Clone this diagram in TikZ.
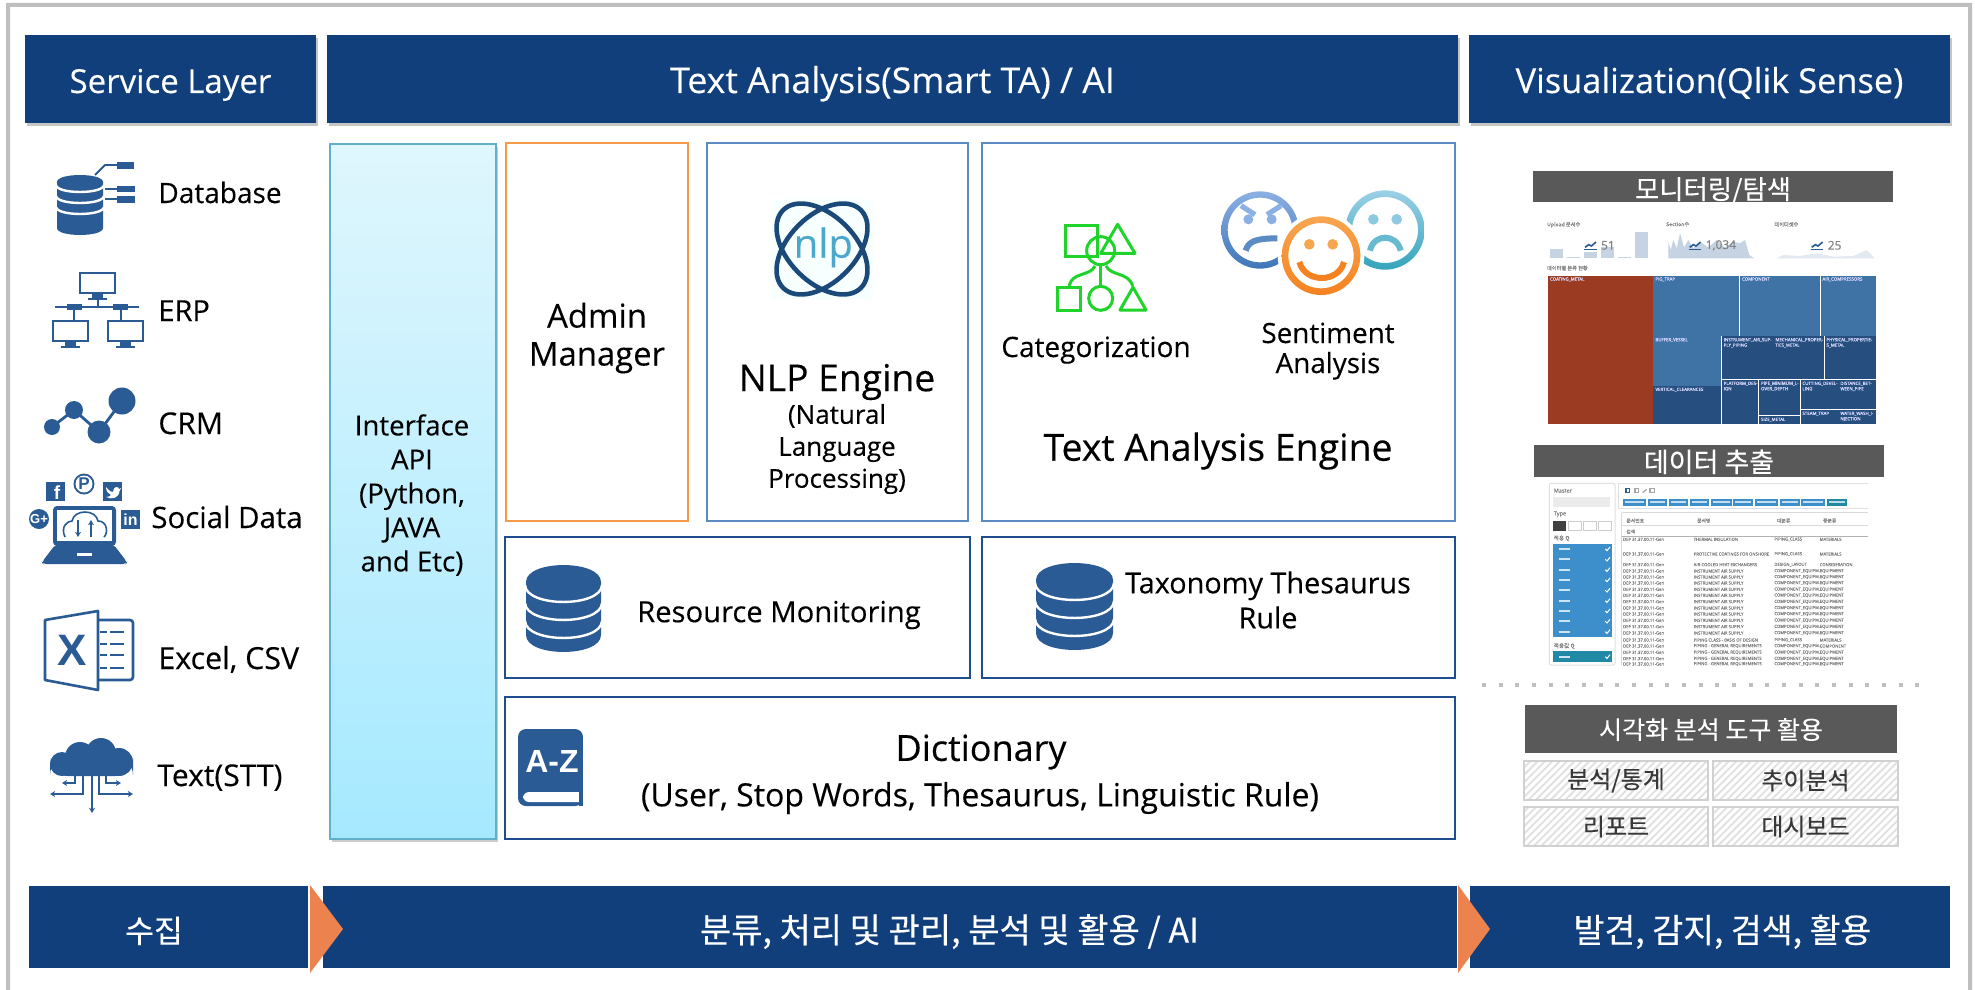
\documentclass[tikz,border=0pt]{standalone}
\usepackage{fontspec}
\setmainfont{Open Sans}[FakeBold=0.25]
\newfontfamily\kr{Noto Sans CJK KR}[FakeBold=0.3]
\newfontfamily\lib{Liberation Sans}
\usetikzlibrary{shadows,patterns.meta,arrows.meta}
\definecolor{hblue}{HTML}{113F7C}
\definecolor{ic}{HTML}{2A5B94}
\definecolor{frame}{HTML}{BFBFBF}
\definecolor{orgb}{HTML}{F39B4A}
\definecolor{midb}{HTML}{5B8BC4}
\definecolor{darkb}{HTML}{1F4E8F}
\definecolor{arrowo}{HTML}{EC834F}
\definecolor{bar}{HTML}{595959}
\definecolor{gre}{HTML}{1FD32A}
\definecolor{tm1}{HTML}{3F72A5}
\definecolor{tm2}{HTML}{264F7F}
\definecolor{tmr}{HTML}{9B3B22}
\definecolor{spark}{HTML}{C5D3E3}
\definecolor{lst}{HTML}{3D8FCC}
\definecolor{tea}{HTML}{2189A6}
\definecolor{apitop}{HTML}{DFF6FD}
\definecolor{apibot}{HTML}{A6E9FF}
\definecolor{apiline}{HTML}{5FB0C8}
\definecolor{angt}{HTML}{8BB0E3}
\definecolor{angb}{HTML}{3F76B8}
\definecolor{sadt}{HTML}{9CD0E6}
\definecolor{sadb}{HTML}{34A4BB}
\definecolor{hapt}{HTML}{F7A650}
\definecolor{hapb}{HTML}{F58220}
\definecolor{nlpd}{HTML}{1B4A7A}
\definecolor{nlpc}{HTML}{4BA8CC}
\newcommand\fz[1]{\fontsize{#1}{#1}\selectfont}
\newcommand\fzl[2]{\fontsize{#1}{#2}\selectfont}
\newcommand\ceq{COMPONENT\_EQUIPM\ldots}
\newcommand\iair{INSTRUMENT AIR SUPPLY}
% style, name, x1, y1, x2, y2, text
\newcommand\bx[7]{\node[#1,inner sep=0pt,outer sep=0pt,minimum width={(#5-#3)*0.5pt},minimum height={(#6-#4)*0.5pt}] (#2) at ({(#3+#5)/2},{(#4+#6)/2}) {#7};}
% centre x, top ellipse y, rx, ry, body height, first arc offset, arc step
\newcommand\dbstack[7]{%
 \fill[ic] ({#1-#3},#2) -- ({#1-#3},{#2+#5}) .. controls ({#1-#3},{#2+#5+1.33*#4}) and ({#1+#3},{#2+#5+1.33*#4}) .. ({#1+#3},{#2+#5}) -- ({#1+#3},#2) .. controls ({#1+#3},{#2-1.33*#4}) and ({#1-#3},{#2-1.33*#4}) .. cycle;
 \foreach \k in {0,1,2}{
  \pgfmathsetmacro\yy{#2+#6+\k*#7}
  \draw[white,line width=1.2pt] ({#1-#3-1},\yy) .. controls ({#1-#3},{\yy+1.33*#4}) and ({#1+#3},{\yy+1.33*#4}) .. ({#1+#3+1},\yy);
 }}
\newcommand\monitor[2]{%
 \draw[ic,line width=1.1pt] (#1,#2) rectangle ({#1+35},{#2+20});
 \fill[ic] ({#1+12},{#2+20}) rectangle ({#1+23},{#2+25});
 \fill[ic] ({#1+8},{#2+25}) rectangle ({#1+27},{#2+27});}
\tikzset{
 hdr/.style={fill=hblue,text=white,font=\fz{16.5},text height=14pt,text depth=0pt,drop shadow={shadow xshift=0.8pt,shadow yshift=-1.5pt,opacity=.45}},
 foot/.style={fill=hblue,text=white,font=\kr\fz{16.5},text height=15.6pt,text depth=0pt},
 dark/.style={fill=bar,text=white,font=\kr\fz{13.2},text depth=0pt},
 hatch/.style={draw=black!18,line width=1pt,text=black!78,font=\kr\fz{12},pattern={Lines[angle=45,distance=2.6pt,line width=.9pt]},pattern color=black!12},
 panel/.style={draw=#1,line width=1.2pt,fill=white},
 lab/.style={anchor=base west,inner sep=0pt,font=\fz{14}},
 ctr/.style={inner sep=0pt,align=center},
 zoomat/.style 2 args={shift={(#1,#2)},x=0.16667pt,y=-0.16667pt},
 wee/.style={inner sep=0pt,anchor=north west,align=left,font=\fzl{2.2}{2.7}},
 row/.style={inner sep=0pt,anchor=west,font=\fz{2.1},text=black!50},
 arr/.style={-{Stealth[length=2.6pt,width=3pt]},ic,line width=.8pt},
}
\begin{document}
\begin{tikzpicture}[x=0.5pt,y=-0.5pt]
\useasboundingbox (0,0) rectangle (1975,990);
\fill[white] (0,0) rectangle (1975,990);
% outer frame
\fill[frame] (6,990) -- (6,3) -- (1972,3) -- (1972,990) -- (1968,990) -- (1968,7) -- (10,7) -- (10,990) -- cycle;
% headers
\bx{hdr}{hA}{25}{35}{316}{123}{Service Layer}
\bx{hdr,font=\fz{17.8}}{hB}{327}{35}{1458}{123}{Text Analysis(Smart TA) / AI}
\bx{hdr,font=\fz{17.2}}{hC}{1469}{35}{1950}{123}{Visualization(Qlik Sense)}
% footers
\bx{foot,font=\kr\fz{15.7}}{fA}{29}{886}{309}{968}{\hspace*{-15pt}수집}
\bx{foot,font=\kr\fz{17}}{fB}{323}{886}{1458}{968}{\hspace*{59pt}분류, 처리 및 관리, 분석 및 활용 / AI}
\bx{foot,font=\kr\fz{16.8}}{fC}{1469}{886}{1950}{968}{\hspace*{13pt}발견, 감지, 검색, 활용}
\fill[white] (308,882) rectangle (323,976);
\fill[white] (1457,882) rectangle (1470,976);
\fill[arrowo] (310,885) -- (343,929) -- (310,973) -- cycle;
\fill[arrowo] (1458,885) -- (1490,929) -- (1458,973) -- cycle;
% central panels
\bx{draw=apiline,line width=1.1pt,top color=apitop,bottom color=apibot,drop shadow={shadow xshift=0.8pt,shadow yshift=-1.3pt,opacity=.4}}{api}{330}{144}{496}{839}{}
\node[ctr,font=\fzl{13.8}{17}] (apit) at (412,495) {Interface\\API\\(Python,\\JAVA\\and Etc)};
\bx{panel=orgb}{adm}{506}{143}{688}{521}{}
\node[ctr,font=\fzl{16.4}{19}] (admt) at (597,338) {Admin\\Manager};
\bx{panel=midb}{nlpb}{707}{143}{968}{521}{}
\bx{panel=midb}{tae}{982}{143}{1455}{521}{}
\bx{panel=darkb}{res}{505}{537}{970}{678}{}
\bx{panel=darkb}{tax}{982}{537}{1455}{678}{}
\bx{panel=darkb}{dic}{505}{697}{1455}{839}{}
\node[ctr,font=\fz{18.6}] (nlpt) at (837,382) {NLP Engine};
\node[ctr,font=\fzl{13}{16}] (nlps) at (837,449) {(Natural\\Language\\Processing)};
\node[ctr,font=\fz{18.7}] (taet) at (1218,451) {Text Analysis Engine};
\node[anchor=base,inner sep=0pt,font=\fz{14}] (cat) at (1096,357) {Categorization};
\node[anchor=base,inner sep=0pt,font=\fz{13.9}] (sen1) at (1328,343) {Sentiment};
\node[anchor=base,inner sep=0pt,font=\fz{13.9}] (sen2) at (1328,373) {Analysis};
\node[ctr,font=\fz{14.6}] (rest) at (779,615) {Resource Monitoring};
\node[ctr,font=\fzl{14.4}{17.5}] (taxt) at (1268,600) {Taxonomy Thesaurus\\Rule};
\node[ctr,font=\fz{18}] (dict) at (981,752) {Dictionary};
\node[ctr,font=\fz{16}] (dics) at (980,798) {(User, Stop Words, Thesaurus, Linguistic Rule)};
% left labels
\node[lab] (l1) at (158,203) {Database};
\node[lab,font=\fz{14.5}] (l2) at (158,321) {ERP};
\node[lab,font=\fz{15}] (l3) at (158,434) {CRM};
\node[lab,font=\fz{14.7}] (l4) at (151,528) {Social Data};
\node[lab,font=\fz{15.2}] (l5) at (158,669) {Excel, CSV};
\node[lab,font=\fz{15}] (l6) at (157,786) {Text(STT)};
% database icon
\dbstack{80}{182}{23}{7}{46}{3}{11}
\draw[ic,line width=.9pt] (95,175) -- (105,165) -- (117,165);
\draw[ic,line width=.9pt] (105,189) -- (117,189);
\draw[ic,line width=.9pt] (105,199) -- (117,199);
\fill[ic] (117,162) rectangle (134,169);
\fill[ic] (117,186) rectangle (135,192);
\fill[ic] (117,196) rectangle (135,203);
% ERP icon
\monitor{80}{273}
\monitor{53}{321}
\monitor{108}{321}
\draw[ic,line width=1pt] (55,307) -- (139,307);
\draw[ic,line width=1pt] (97.5,300) -- (97.5,307);
\draw[ic,line width=1pt] (74,307) -- (74,320);
\draw[ic,line width=1pt] (121,307) -- (121,320);
\fill[ic] (67,304) rectangle (82,310);
\fill[ic] (113,304) rectangle (128,310);
% CRM icon
\draw[ic,line width=1.4pt] (52,427) -- (74,410) -- (99,432) -- (122,401);
\fill[ic] (52,427) circle [radius=8];
\fill[ic] (74,410) circle [radius=9];
\fill[ic] (99,432) circle [radius=11.5];
\fill[ic] (122,401) circle [radius=13.5];
% social icon
\fill[ic,rounded corners=2pt] (53,506) rectangle (116,546);
\fill[white] (57,510) rectangle (112,541);
\fill[ic,rounded corners=1.5pt] (55,545) -- (42,562) -- (43,564) -- (126,564) -- (127,562) -- (114,545) -- cycle;
\fill[white] (77,553) rectangle (92,556);
\draw[ic,line width=.8pt] (65,537) .. controls (60,526) and (68,521) .. (72,521) .. controls (74,509) and (96,509) .. (98,521) .. controls (108,521) and (108,534) .. (104,537);
\draw[arr,line width=.6pt] (78,520) -- (78,537);
\draw[arr,line width=.6pt] (91,537) -- (91,520);
\fill[ic] (46,482) rectangle (65,501);
\node[inner sep=0pt,text=white,font=\lib\bfseries\fz{9.5}] (sf) at (57,493) {f};
\fill[ic] (84,484) circle [radius=10.5];
\fill[white] (84,484) circle [radius=8.5];
\node[inner sep=0pt,text=ic,font=\lib\bfseries\fz{8.5}] (sp) at (84,484) {P};
\fill[ic] (103,482) rectangle (122,501);
\fill[white] (106,487) .. controls (110,492) and (112,492) .. (113,492) .. controls (113,486) and (119,486) .. (119,489) -- (121,488) -- (119.5,491) .. controls (119,498) and (112,500) .. (106,497) .. controls (109,497) and (110,496) .. (111,495) .. controls (108,494) and (106,491) .. cycle;
\fill[ic] (39,519) circle [radius=10];
\node[inner sep=0pt,text=white,font=\lib\bfseries\fz{6.5}] (sg) at (39,519) {G+};
\fill[ic] (121,510) rectangle (140,529);
\node[inner sep=0pt,text=white,font=\lib\bfseries\fz{8}] (si) at (130.5,519.5) {in};
% excel icon
\draw[ic,line width=1.3pt,line join=round] (98,611) -- (45,620) -- (45,680) -- (98,690) -- cycle;
\draw[ic,line width=1.3pt,rounded corners=1.5pt] (98,620) -- (133,620) -- (133,680) -- (98,680);
\foreach \y in {632,644,655,668}{
 \draw[ic,line width=1.1pt] (100,\y) -- (107,\y);
 \draw[ic,line width=1.1pt] (110,\y) -- (124,\y);}
\node[inner sep=0pt,text=ic,font=\lib\bfseries\fz{22}] (xl) at (72,650) {X};
% cloud icon
\fill[ic] (50,757) [rounded corners=9pt] rectangle (133,776);
\fill[ic] (62,764) circle [radius=12];
\fill[ic] (80,757) circle [radius=15];
\fill[ic] (101,753) circle [radius=15];
\fill[ic] (119,762) circle [radius=14];
\draw[arr] (92,776) -- (92,813);
\draw[arr] (83,776) -- (83,794) -- (50,794);
\draw[arr] (99,776) -- (99,794) -- (133,794);
\draw[arr] (75,776) -- (75,783) -- (62,783);
\draw[arr] (106,776) -- (106,783) -- (121,783);
% nlp logo
\begin{scope}[zoomat={740}{180}]
 \fill[blue!3!cyan!3!white] (96,58) rectangle (400,358);
 \draw[nlpd,line width=2.3pt,rotate around={45:(246,207)}] (246,207) ellipse [x radius=165,y radius=100];
 \draw[nlpd,line width=2.3pt,rotate around={-45:(246,207)}] (246,207) ellipse [x radius=165,y radius=100];
 \node[inner sep=0pt,text=nlpc,font=\fz{20}] (nlpl) at (250,202) {nlp};
\end{scope}
% categorisation icon
\begin{scope}[zoomat={980}{140},line width=1.5pt]
 \draw[gre] (257,257) rectangle (351,349);
 \draw[gre,line join=round] (413,253) -- (465,340) -- (362,340) -- cycle;
 \draw[gre] (362,332) circle [radius=42];
 \draw[gre] (232,442) rectangle (301,510);
 \draw[gre] (362,475) circle [radius=36];
 \draw[gre,line join=round] (459,442) -- (498,510) -- (420,510) -- cycle;
 \draw[gre] (362,376) -- (362,438);
 \draw[gre] (345,378) .. controls (330,410) and (275,395) .. (268,438);
 \draw[gre] (378,378) .. controls (395,410) and (445,395) .. (458,438);
\end{scope}
% faces
\begin{scope}[zoomat={980}{140}]
 \shade[top color=angt,bottom color=angb,even odd rule] (840,270) circle [radius=116] (840,270) circle [radius=97];
 \shade[top color=sadt,bottom color=sadb,even odd rule] (1215,270) circle [radius=119] (1215,270) circle [radius=99];
 \fill[white] (1023,347) circle [radius=130];
 \shade[top color=hapt,bottom color=hapb,even odd rule] (1023,347) circle [radius=118] (1023,347) circle [radius=98];
 \fill[angt] (805,238) circle [radius=15];
 \fill[angt] (875,238) circle [radius=15];
 \draw[angt,line width=2.6pt] (783,197) -- (825,224);
 \draw[angt,line width=2.6pt] (903,197) -- (861,224);
 \draw[midb,line width=3pt] (797,332) .. controls (805,305) and (825,295) .. (892,295);
 \fill[sadt!85!sadb] (1180,238) circle [radius=16];
 \fill[sadt!85!sadb] (1250,238) circle [radius=16];
 \draw[sadt!50!sadb,line width=3pt] (1170,332) .. controls (1180,280) and (1250,280) .. (1262,332);
 \fill[hapt] (988,313) circle [radius=16];
 \fill[hapt] (1058,313) circle [radius=16];
 \draw[hapb,line width=3pt] (958,366) .. controls (975,430) and (1075,430) .. (1092,366);
\end{scope}
% db icons, book
\dbstack{563.5}{582}{37.5}{17}{53}{3}{18}
\dbstack{1074.5}{580}{38.5}{17}{53}{3}{18}
\fill[ic,rounded corners=4pt] (518,729) -- (518,806) -- (560,806) -- (583,806) -- (583,729) -- cycle;
\fill[white,rounded corners=3pt] (523,792) rectangle (600,802);
\fill[ic] (579,792) rectangle (590,806);
\fill[white] (583,725) rectangle (592,810);
\node[inner sep=0pt,text=white,font=\lib\bfseries\fz{16}] (az) at (552,761) {A-Z};
% visual panel, monitoring
\bx{dark,text height=12.5pt}{b1}{1533}{171}{1893}{202}{모니터링/탐색}
\begin{scope}[zoomat={1500}{160}]
 \node[wee,text=black!50,font=\kr\fz{2.6}] (u1) at (140,185) {Upload 문서수};
 \node[wee,text=black!50,font=\kr\fz{2.6}] (u2) at (497,185) {Section수};
 \node[wee,text=black!50,font=\kr\fz{2.6}] (u3) at (822,185) {데이터셋수};
 \node[wee,text=black!50,font=\kr\fz{2.6}] (u4) at (140,316) {데이터별 분류 현황};
 \foreach \xa/\ya/\xb in {150/267/190,200/292/240,252/277/292,303/262/343,353/291/393,405/217/444}
  \fill[spark] (\xa,\ya) rectangle (\xb,295);
 \fill[spark] (505,295) -- (505,245) -- (512,270) -- (520,240) -- (530,265) -- (540,220) -- (552,262) -- (565,240) -- (580,265) -- (600,245) -- (625,262) -- (650,240) -- (675,262) -- (700,245) -- (720,250) -- (735,240) -- (748,285) -- (762,295) -- cycle;
 \fill[spark!50] (830,295) -- (850,285) -- (900,288) -- (950,280) -- (1000,290) -- (1060,288) -- (1100,270) -- (1125,295) -- cycle;
 \foreach \xx/\nm/\ii in {252/51/a,566/{1,034}/b,932/25/c}{
  \draw[ic,line width=.5pt] (\xx,267) -- ({\xx+38},267);
  \draw[ic,line width=.8pt] ({\xx+3},262) -- ({\xx+14},254) -- ({\xx+22},258) -- ({\xx+36},246);
  \node[inner sep=0pt,anchor=west,text=black!50,font=\fz{6}] (n\ii) at ({\xx+50},256) {\nm};
 }
 \fill[tmr] (145,347) rectangle (459,792);
 \foreach \xa/\ya/\xb/\yb in {460/347/718/527,720/347/960/527,962/347/1128/527,460/529/664/677}
  \fill[tm1] (\xa,\ya) rectangle (\xb,\yb);
 \foreach \xa/\ya/\xb/\yb in {460/679/664/792,666/529/818/658,820/529/972/658,974/529/1128/658,666/660/775/792,777/660/900/765,777/767/900/792,902/660/1013/748,1015/660/1128/748,902/750/1013/792,1015/750/1128/792}
  \fill[tm2] (\xa,\ya) rectangle (\xb,\yb);
 \foreach \xa/\ya/\tt [count=\i] in {149/351/COATING\_METAL,465/351/PIG\_TRAP,725/351/COMPONENT,966/351/AIR\_COMPRESSORS,465/533/BUFFER\_VESSEL,465/682/VERTICAL\_CLEARANCES,670/533/{INSTRUMENT\_AIR\_SUP-\\PLY\_PIPING},825/533/{MECHANICAL\_PROPER-\\TIES\_METAL},978/533/{PHYSICAL\_PROPERTIE-\\S\_METAL},670/664/{PLATFORM\_DES-\\IGN},782/664/{PIPE\_MINIMUM\_L-\\OVER\_DEPTH},906/664/{CUTTING\_DEVEL-\\LING},1020/664/{DISTANCE\_BET-\\WEEN\_PIPE},782/772/SIZE\_METAL,906/754/STEAM\_TRAP,1020/754/{WATER\_WASH\_I-\\NJECTION}}
  \node[wee,text=white!85!blue] (tm\i) at (\xa,\ya) {\tt};
\end{scope}
% data extraction
\bx{dark,font=\kr\fz{13.5},text height=11pt}{b2}{1534}{445}{1884}{477}{데이터 추출}
\begin{scope}[zoomat={1500}{440}]
 \draw[black!12,rounded corners=1pt,line width=.5pt] (148,130) rectangle (345,675);
 \draw[black!12,line width=.5pt] (355,130) -- (1105,130);
 \draw[black!12,line width=.5pt] (355,130) -- (355,205) -- (1105,205);
 \node[row,font=\fz{2.8}] (m1) at (160,152) {Master};
 \fill[black!8] (160,172) rectangle (330,200);
 \node[row,font=\fz{2.8}] (m2) at (160,222) {Type};
 \fill[black!75] (160,243) rectangle (198,272);
 \foreach \xa in {205,250,295}{\draw[black!20,line width=.4pt] (\xa,243) rectangle ({\xa+38},272);}
 \draw[ic,line width=.8pt] (378,145) rectangle (388,158);
 \draw[black!35,line width=.6pt] (405,145) rectangle (416,158);
 \draw[black!35,line width=.6pt] (428,158) -- (440,148);
 \draw[black!35,line width=.6pt] (450,145) rectangle (464,158);
 \node[row,font=\kr\fz{2.8}] (m3) at (160,295) {적용 Q};
 \node[row,font=\kr\fz{2.8}] (m4) at (160,618) {적용값 Q};
 \fill[lst] (158,312) rectangle (337,592);
 \fill[tea] (158,634) rectangle (337,665);
 \foreach \y in {327,358,389,420,451,482,513,544,575,650}{
  \fill[white!75!lst] (178,{\y-3}) rectangle (210,{\y+3});
  \draw[white,line width=.5pt] (316,\y) -- (321,{\y+5}) -- (330,{\y-6});
 }
 \foreach \xa/\xb in {368/438,444/500,507/565,570/628,634/695,700/760,766/835,840/900,903/975}{
  \fill[lst] (\xa,176) rectangle (\xb,197);
  \fill[white!70!lst] ({\xa+6},184) rectangle ({\xb-6},190);}
 \fill[tea] (980,176) rectangle (1040,197);
 \fill[white!70!tea] (986,184) rectangle (1034,190);
 \draw[black!15,line width=.4pt] (365,218) -- (1105,218);
 \draw[black!15,line width=.4pt] (365,218) -- (365,675);
 \draw[black!15,line width=.4pt] (365,255) -- (1105,255);
 \draw[black!30,line width=.5pt] (365,290) -- (1105,290);
 \foreach \xa/\tt [count=\i] in {378/문서번호,590/문서명,830/대분류,968/중분류}
  \node[row,font=\kr\fz{2.4}] (th\i) at (\xa,242) {\tt};
 \node[row,font=\kr\fz{2.4}] (th5) at (378,275) {검색};
 \foreach \y/\tb/\tc/\td [count=\i] in {298/{THERMAL INSULATION}/PIPING\_CLASS/MATERIALS,342/{PROTECTIVE COATINGS FOR ONSHORE}/PIPING\_CLASS/MATERIALS,374/{AIR-COOLED HEAT EXCHANGERS}/DESIGN\_LAYOUT/CONSIDERATION,393/\iair/\ceq/EQUIPMENT,411/\iair/\ceq/EQUIPMENT,429/\iair/\ceq/EQUIPMENT,448/\iair/\ceq/EQUIPMENT,466/\iair/\ceq/EQUIPMENT,485/\iair/\ceq/EQUIPMENT,504/\iair/\ceq/EQUIPMENT,522/\iair/\ceq/EQUIPMENT,541/\iair/\ceq/EQUIPMENT,560/\iair/\ceq/EQUIPMENT,579/\iair/\ceq/EQUIPMENT,600/{PIPING CLASS - BASIS OF DESIGN}/PIPING\_CLASS/MATERIALS,618/{PIPING - GENERAL REQUIREMENTS}/\ceq/COMPONENT,637/{PIPING - GENERAL REQUIREMENTS}/\ceq/EQUIPMENT,656/{PIPING - GENERAL REQUIREMENTS}/\ceq/EQUIPMENT,672/{PIPING - GENERAL REQUIREMENTS}/\ceq/EQUIPMENT}{
  \node[row] (c\i) at (368,\y) {DEP 31.37.00.11-Gen};
  \node[row] (d\i) at (580,\y) {\tb};
  \node[row] (e\i) at (822,\y) {\tc};
  \node[row] (f\i) at (958,\y) {\td};
 }
\end{scope}
% dotted separator
\draw[frame,line width=2pt,dash pattern=on 2pt off 6.33pt] (1482,685) -- (1920,685);
% tool boxes
\bx{dark,font=\kr\fz{12.5},text height=10pt}{b3}{1525}{705}{1897}{753}{시각화 분석 도구 활용}
\bx{hatch}{h1}{1524}{761}{1708}{800}{분석/통계}
\bx{hatch}{h2}{1713}{761}{1898}{800}{추이분석}
\bx{hatch}{h3}{1524}{807}{1708}{846}{리포트}
\bx{hatch}{h4}{1713}{807}{1898}{846}{대시보드}
\end{tikzpicture}
\end{document}
